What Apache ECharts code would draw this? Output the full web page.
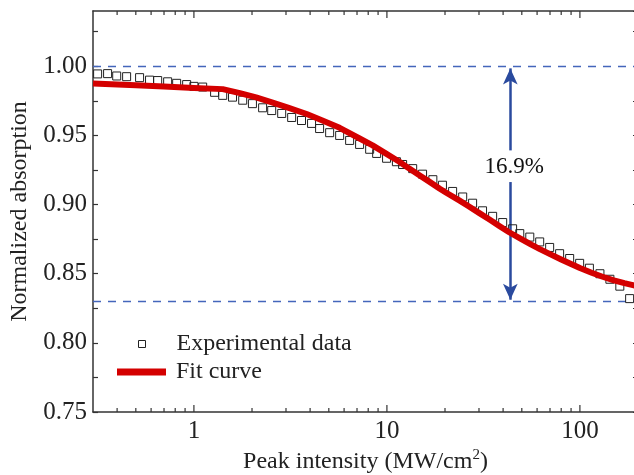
<!DOCTYPE html>
<html><head><meta charset="utf-8">
<script src="https://cdn.jsdelivr.net/npm/echarts@6/dist/echarts.min.js"></script>
<style>html,body{margin:0;padding:0;background:#fff}#c{width:634px;height:475px}</style>
</head><body><div id="c"></div>
<script>
// ---- data ----
const expX = [0.317,0.357,0.398,0.448,0.523,0.589,0.649,0.731,0.814,0.917,1.0,1.11,1.28,1.41,1.585,1.79,2.01,2.27,2.53,2.85,3.21,3.61,4.07,4.48,5.05,5.69,6.41,7.22,8.14,8.85,9.96,11.2,12.06,13.6,15.3,17.3,19.4,21.9,24.7,27.8,31.3,35.3,39.8,44.8,48.8,55.0,61.9,69.7,78.5,88.5,99.7,112,127,143,161,181];
const expY = [0.9945,0.9947,0.9930,0.9925,0.9918,0.9900,0.9897,0.9888,0.9877,0.9868,0.9855,0.9850,0.9812,0.9790,0.9777,0.9755,0.9730,0.9700,0.9680,0.9659,0.9630,0.9608,0.9587,0.9550,0.9520,0.9500,0.9464,0.9435,0.9400,0.9370,0.9335,0.9310,0.9290,0.9260,0.9220,0.9180,0.9140,0.9095,0.9055,0.9010,0.8955,0.8915,0.8870,0.8825,0.8790,0.8765,0.8730,0.8690,0.8645,0.8610,0.8575,0.8540,0.8500,0.8460,0.8410,0.8320];
const fitX = [0.3,0.5,0.7,1.0,1.41,1.73,2.1,2.56,3.1,3.84,4.6,5.69,7.22,8.43,10,11.6,13,15,16.5,18.8,20.4,23.7,26.5,30,34,38.4,43,50,56,62,70,80,90,100,115,130,150,170,188,200];
const fitY = [0.9875,0.9863,0.9854,0.9843,0.9835,0.9806,0.9775,0.9738,0.9700,0.9655,0.9610,0.9555,0.9478,0.9428,0.9365,0.9310,0.9262,0.9205,0.9168,0.9115,0.9084,0.9030,0.8988,0.8940,0.8892,0.8844,0.8800,0.8748,0.8710,0.8678,0.8642,0.8603,0.8570,0.8541,0.8507,0.8480,0.8452,0.8432,0.8418,0.8410];
const xMajorTicks = [1, 10, 100];
const xMinorTicks = [0.4,0.5,0.6,0.7,0.8,0.9,2,3,4,5,6,7,8,9,20,30,40,50,60,70,80,90];
const refLevels = [1.00, 0.83];
const arrowX = 43.6;
const arrowTop = 0.9985, arrowBottom = 0.8312;
const arrowGapTop = 0.9392, arrowGapBottom = 0.9163;
const annotationText = '16.9%';
const annotationY = 0.927;
const xMin = 0.3, xMax = 200, yMin = 0.75, yMax = 1.04;
const seriesNames = ['Experimental data', 'Fit curve'];
const xTitle = 'Peak intensity (MW/cm{sup|2})';
const yTitle = 'Normalized absorption';

// ---- chart ----
const FONT = '"Liberation Serif","Times New Roman",serif';
const chart = echarts.init(document.getElementById('c'), null, {renderer: 'canvas'});
const isPow10 = v => { const l = Math.log10(v); return Math.abs(l - Math.round(l)) < 1e-6; };
const tickData = xMajorTicks.map(v => [v, 1]).concat(xMinorTicks.map(v => [v, 0]));

const option = {
  animation: false,
  backgroundColor: '#fff',
  grid: {left: 93, top: 11, width: 545, height: 401, outerBoundsMode: 'none', containLabel: false},
  xAxis: [{
    type: 'log', logBase: 10, min: xMin, max: xMax, position: 'bottom',
    axisLine: {show: true, lineStyle: {color: '#333', width: 1.5}},
    axisTick: {show: false}, splitLine: {show: false}, minorTick: {show: false},
    axisLabel: {margin: 7, color: '#222', fontFamily: FONT, fontSize: 25,
      formatter: v => isPow10(v) ? String(Math.round(v)) : ''},
    name: xTitle, nameLocation: 'middle', nameGap: 36, nameMoveOverlap: false,
    nameTextStyle: {color: '#222', fontFamily: FONT, fontSize: 24, lineHeight: 28,
      rich: {sup: {fontFamily: FONT, fontSize: 15, color: '#222', verticalAlign: 'top', lineHeight: 28}}}
  }, {
    type: 'log', logBase: 10, min: xMin, max: xMax, position: 'top',
    axisLine: {show: true, lineStyle: {color: '#333', width: 1.5}},
    axisTick: {show: false}, axisLabel: {show: false}, splitLine: {show: false}
  }],
  yAxis: [{
    type: 'value', min: yMin, max: yMax, interval: 0.025, position: 'left',
    axisLine: {show: true, lineStyle: {color: '#333', width: 1.5}},
    axisTick: {show: true, inside: true, length: 5, lineStyle: {color: '#333', width: 1.2}},
    splitLine: {show: false},
    axisLabel: {margin: 6, color: '#222', fontFamily: FONT, fontSize: 25,
      showMaxLabel: false,
      formatter: v => { const k = Math.round(v * 1000); return (k % 50 === 0 && v <= 1.0001) ? v.toFixed(2) : ''; }},
    name: yTitle, nameLocation: 'middle', nameGap: 61, nameMoveOverlap: false,
    nameTextStyle: {color: '#222', fontFamily: FONT, fontSize: 24}
  }, {
    type: 'value', min: yMin, max: yMax, interval: 0.025, position: 'right',
    axisLine: {show: true, lineStyle: {color: '#333', width: 1.5}},
    axisTick: {show: true, inside: true, length: 5, lineStyle: {color: '#333', width: 1.2}},
    axisLabel: {show: false}, splitLine: {show: false}
  }],
  legend: [{
    orient: 'vertical', left: 117, top: 331, padding: 0,
    itemWidth: 54, itemHeight: 7,
    textStyle: {color: '#222', fontFamily: FONT, fontSize: 24, lineHeight: 26},
    data: [{name: seriesNames[0], icon: 'path://M0,0M54,7M21,0h7v7h-7z',
      itemStyle: {color: 'rgba(0,0,0,0)', borderColor: '#222', borderWidth: 1}}]
  }, {
    orient: 'vertical', left: 117, top: 359, padding: 0,
    itemWidth: 54, itemHeight: 7,
    textStyle: {color: '#222', fontFamily: FONT, fontSize: 24, lineHeight: 26},
    data: [{name: seriesNames[1], icon: 'path://M0,0h49v7h-49zM54,7',
      itemStyle: {color: '#d40000'}}]
  }],
  series: [
    {
      name: 'ticks', type: 'custom', xAxisIndex: 0, yAxisIndex: 0, silent: true, z: 5,
      data: tickData,
      renderItem: (params, api) => {
        const v = api.value(0), major = api.value(1);
        const len = major ? 7 : 4;
        const pb = api.coord([v, yMin]);
        const pt = api.coord([v, yMax]);
        const st = {stroke: '#333', lineWidth: 1.2};
        return {type: 'group', children: [
          {type: 'line', shape: {x1: pb[0], y1: pb[1], x2: pb[0], y2: pb[1] - len}, style: st},
          {type: 'line', shape: {x1: pt[0], y1: pt[1], x2: pt[0], y2: pt[1] + len}, style: st}
        ]};
      }
    },
    {
      name: seriesNames[0], type: 'scatter', symbol: 'rect', symbolSize: 8, z: 2,
      data: expX.map((x, i) => [x, expY[i]]),
      itemStyle: {color: 'rgba(0,0,0,0)', borderColor: '#222', borderWidth: 1, opacity: 1},
      markLine: {
        silent: true, animation: false, z: 1, symbol: ['none', 'none'],
        label: {show: false},
        data: refLevels.map(v => ({yAxis: v,
          lineStyle: {color: '#4466bb', type: [8, 7], width: 1.3}})).concat([
          [{coord: [arrowX, arrowTop], symbol: 'arrow', symbolSize: [11, 16]},
           {coord: [arrowX, arrowGapTop], symbol: 'none'}],
          [{coord: [arrowX, arrowGapBottom], symbol: 'none'},
           {coord: [arrowX, arrowBottom], symbol: 'arrow', symbolSize: [11, 16]}]
        ]),
        lineStyle: {color: '#2a4a9e', type: 'solid', width: 2.5},
        emphasis: {disabled: true}
      }
    },
    {
      name: seriesNames[1], type: 'line', showSymbol: false, symbol: 'none', z: 3,
      smooth: false,
      data: fitX.map((x, i) => [x, fitY[i]]),
      lineStyle: {color: '#d40000', width: 6, join: 'round'}, itemStyle: {color: '#d40000'}
    },
    {
      name: 'annotation', type: 'scatter', symbolSize: 0, z: 4, silent: true,
      itemStyle: {opacity: 1},
      data: [[arrowX, annotationY]],
      label: {show: true, position: 'inside', formatter: annotationText, opacity: 1,
        color: '#111', fontFamily: FONT, fontSize: 23, offset: [4, 0]}
    }
  ]
};
chart.setOption(option);
</script></body></html>
